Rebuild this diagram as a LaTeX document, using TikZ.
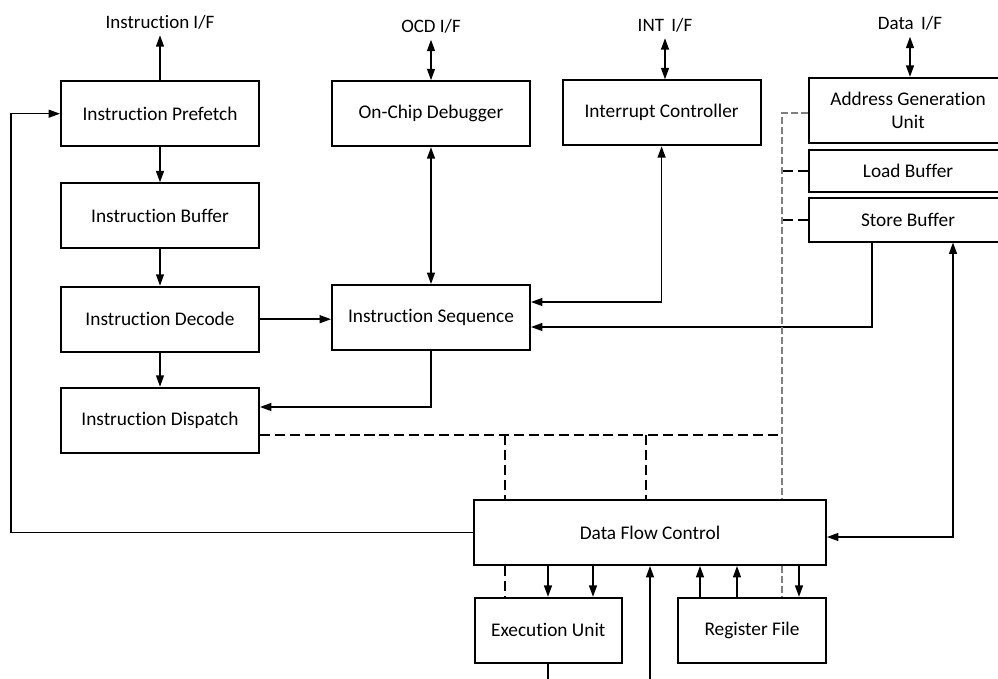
\documentclass[tikz,border=0pt]{standalone}
\usepackage{fontspec}
\setmainfont{Carlito}[Ligatures=NoCommon]
\usetikzlibrary{arrows.meta}
\tikzset{
  blk/.style={draw, line width=1.1pt, fill=white, inner sep=0pt, minimum width=3.96cm,
    minimum height=1.3cm, align=center, font=\fontsize{11}{13}\selectfont},
  lbl/.style={font=\fontsize{10.8}{13}\selectfont},
  tip/.tip={Triangle[length=6.5pt,width=4.5pt]},
  arr/.style={-tip, line width=0.9pt},
  arrb/.style={tip-tip, line width=0.9pt},
  dsh/.style={line width=1pt, dash pattern=on 5.7pt off 2.8pt},
  gdsh/.style={line width=0.7pt, gray, dash pattern=on 4pt off 1.7pt}
}
\begin{document}
\begin{tikzpicture}[x=0.02cm,y=-0.02cm]
\useasboundingbox (0,0) rectangle (998,679);
\node[blk] (pre)  at (160,113.7) {Instruction Prefetch};
\node[blk] (ibuf) at (160,215.8) {Instruction Buffer};
\node[blk] (dec)  at (160,319.2) {Instruction Decode};
\node[blk] (disp) at (160,420.2) {Instruction Dispatch};
\node[blk] (ocd)  at (431,113.7) {On-Chip Debugger};
\node[blk] (intc) at (661.6,112.8) {Interrupt Controller};
\node[blk] (seq)  at (431,317.5) {Instruction Sequence};
\node[blk] (agu)  at (908,110.3) {Address Generation\\Unit};
\node[blk,minimum height=0.85cm] (lbuf) at (908,171.2) {Load Buffer};
\node[blk,minimum height=0.87cm] (sbuf) at (908,219.8) {Store Buffer};
\node[blk,minimum width=7.04cm] (dfc) at (650,532.5) {Data Flow Control};
\node[blk,minimum width=2.94cm] (eu) at (548.3,630.3) {Execution Unit};
\node[blk,minimum width=2.96cm] (rf) at (752,630.3) {Register File};

\node[lbl] (iif)  at (160,22) {Instruction I/F};
\node[lbl] (ocdif) at (431,26.5) {OCD I/F};
\node[lbl] (intif) at (665,25) {INT~\,I/F};
\node[lbl] (dif)  at (910,23.5) {Data~\,I/F};
\coordinate (dj) at (782,435);
\coordinate (inbus) at (650,685);
\coordinate (eubus) at (548,685);

\draw[arr] (pre.north) -- (iif.south);
\draw[arrb] (ocdif.south) -- (ocd.north);
\draw[arrb] (intif.south) -- (intc.north -| intif.south);
\draw[arrb] (dif.south) -- (agu.north -| dif.south);
\draw[arr] (pre.south) -- (ibuf.north);
\draw[arr] (ibuf.south) -- (dec.north);
\draw[arr] (dec.south) -- (disp.north);
\draw[arr] (dec.east) -- (seq.west |- dec.east);
\draw[arr] (seq.south) |- (disp.east |- 0,407);
\draw[arrb] (ocd.south) -- (seq.north);
\draw[arrb] (intc.south) |- (seq.east |- 0,302);
\draw[arr] (sbuf.south -| 872,0) |- (seq.east |- 0,327);
\draw[arrb] (dfc.east |- 0,537) -| (sbuf.south -| 953,0);
\draw[arr] (dfc.west) -- (dfc.west -| 11,0) |- (pre.west);

\draw[gdsh] (agu.west |- 0,113) -| (dfc.north -| dj);
\draw[gdsh] (dfc.south -| dj) -- (rf.north -| dj);
\draw[dsh] (lbuf.west) -- (lbuf.west -| dj);
\draw[dsh] (sbuf.west) -- (sbuf.west -| dj);
\draw[dsh] (disp.east |- dj) -- (dj);
\draw[dsh] (505,435) -- (dfc.north -| 505,0);
\draw[dsh] (646,435) -- (dfc.north -| 646,0);
\draw[dsh] (dfc.south -| 505,0) -- (eu.north -| 505,0);

\draw[arr] (dfc.south -| 548,0) -- (eu.north -| 548,0);
\draw[arr] (dfc.south -| 593,0) -- (eu.north -| 593,0);
\draw[arr] (inbus) -- (dfc.south -| inbus);
\draw[arr] (rf.north -| 700,0) -- (dfc.south -| 700,0);
\draw[arr] (rf.north -| 737,0) -- (dfc.south -| 737,0);
\draw[arr] (dfc.south -| 799,0) -- (rf.north -| 799,0);
\draw[line width=0.9pt] (eu.south -| eubus) -- (eubus);
\end{tikzpicture}
\end{document}
